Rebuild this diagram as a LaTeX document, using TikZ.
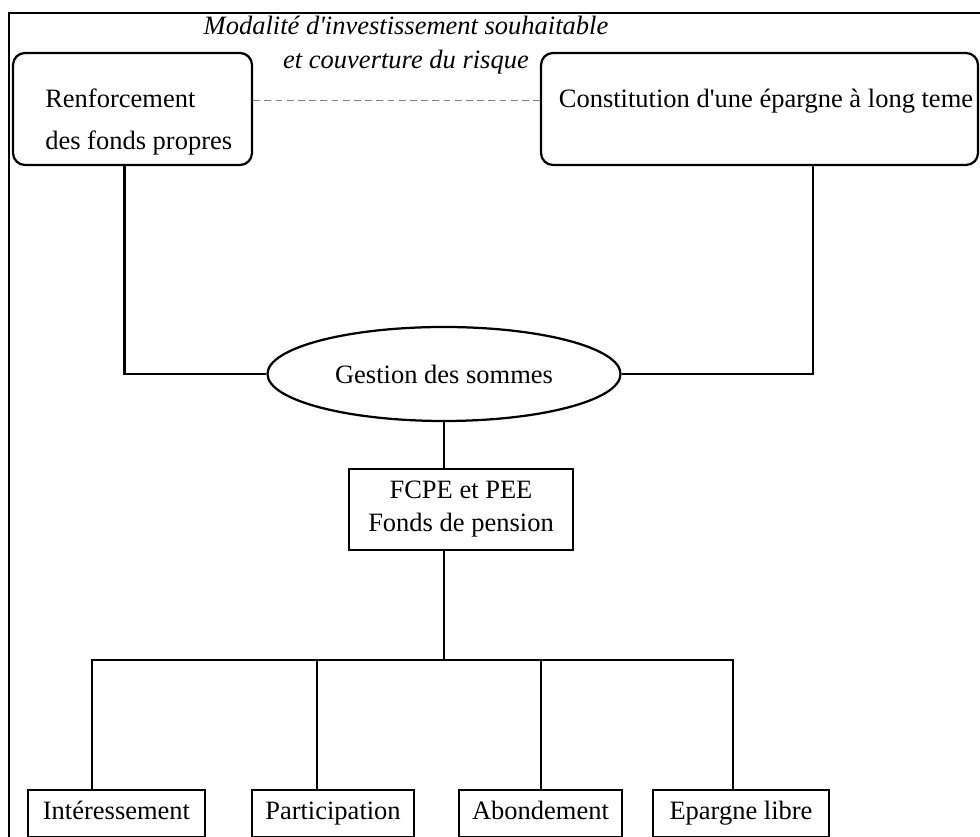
\documentclass[tikz,border=0pt]{standalone}
\usepackage{fontspec}
\setmainfont{Liberation Serif}
\usetikzlibrary{shapes.geometric,calc}

\begin{document}
\begin{tikzpicture}[every node/.style={font=\fontsize{18.85}{23.5}\selectfont}]
  \tikzstyle{rbox}=[draw,rounded corners=0.3cm,line width=1.6pt,minimum height=2.8cm,inner sep=0pt]
  \tikzstyle{sbox}=[draw,line width=1.6pt,inner sep=0pt,align=center]
  \tikzstyle{leaf}=[sbox,minimum height=1.175cm,text height=13pt,text depth=4pt]
  \tikzstyle{link}=[line width=1.6pt]
  \tikzstyle{dashline}=[line width=0.7pt,gray,dash pattern=on 0.17cm off 0.11cm]
  \useasboundingbox (0,0) rectangle (24.5,20.925);
  \clip (0,0) rectangle (24.5,20.925);
  % outer frame
  \draw[link] (0.225,-1) rectangle (26,20.6);
  % title
  \node[align=center,font=\fontsize{18.85}{24.1}\selectfont\itshape] (titre) at (10.15,19.8)
    {Modalité d\textquotesingle investissement souhaitable\\et couverture du risque};
  % top boxes
  \node[rbox,minimum width=5.975cm] (renf) at (3.3125,18.2) {};
  \node[align=left,anchor=west,inner sep=0pt,font=\fontsize{18.85}{29.8}\selectfont] (renftxt) at (1.125,17.875)
    {Renforcement\\des fonds propres};
  \node[rbox,minimum width=10.925cm] (const) at (18.9875,18.2) {};
  \node (consttxt) at (19.15,18.4) {Constitution d\textquotesingle une épargne à long teme};
  \draw[dashline] (renf.east |- consttxt.center) -- (const.west |- consttxt.center);
  % middle
  \node[draw,ellipse,line width=1.6pt,minimum width=8.825cm,minimum height=2.35cm,inner sep=0pt] (gest) at (11.1,11.575) {Gestion des sommes};
  \draw[link] ([xshift=-0.2cm]renf.south) |- (gest.west);
  \draw[link] ([xshift=1.34cm]const.south) |- (gest.east);
  \node[sbox,minimum width=5.6cm,minimum height=2.025cm] (fcpe) at (11.525,8.1875) {FCPE et PEE\\Fonds de pension};
  \draw[link] (gest.south) -- (gest.south |- fcpe.north);
  % bottom boxes
  \coordinate (bus) at (11.1,4.425);
  \draw[link] (fcpe.south -| gest.south) -- (bus);
  \node[leaf,minimum width=4.425cm] (inter) at (2.9125,0.5875) {Intéressement};
  \node[leaf,minimum width=4.05cm] (part) at (8.325,0.5875) {Participation};
  \node[leaf,minimum width=4.075cm] (abon) at (13.5125,0.5875) {Abondement};
  \node[leaf,minimum width=4.4cm] (epar) at (18.525,0.5875) {Epargne libre};
  \foreach \n/\dx in {inter/-0.6125,part/-0.4,abon/0.01,epar/-0.2}
    \draw[link] ([xshift=\dx cm]\n.north) |- (bus);
\end{tikzpicture}
\end{document}
